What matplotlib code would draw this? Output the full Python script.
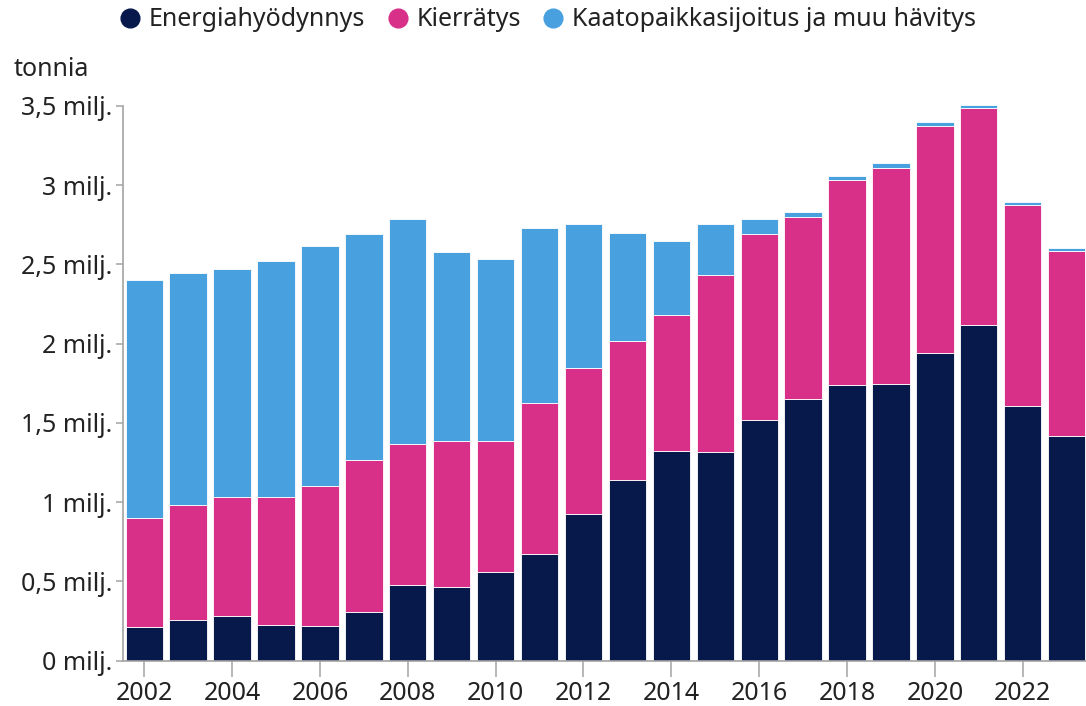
import numpy as np
import matplotlib
matplotlib.use("Agg")
import matplotlib.pyplot as plt
from matplotlib.lines import Line2D
from matplotlib.ticker import FuncFormatter


# --------------------------------------------------
# DATA (milj. tonnia)
# --------------------------------------------------
vuodet = list(range(2002, 2024))

energiahyodynnys = [0.213, 0.255, 0.283, 0.224, 0.219, 0.310, 0.477, 0.462, 0.557, 0.673, 0.928,
                    1.142, 1.320, 1.316, 1.521, 1.653, 1.739, 1.744, 1.940, 2.119, 1.609, 1.415]

kierratys = [0.690, 0.730, 0.750, 0.807, 0.880, 0.959, 0.887, 0.926, 0.828, 0.953, 0.917,
             0.876, 0.862, 1.119, 1.170, 1.145, 1.295, 1.364, 1.434, 1.369, 1.269, 1.172]

kaatopaikka = [1.499, 1.459, 1.436, 1.491, 1.518, 1.424, 1.422, 1.191, 1.151, 1.103, 0.911,
               0.681, 0.464, 0.321, 0.095, 0.032, 0.027, 0.034, 0.023, 0.021, 0.015, 0.015]

sarjat = ["Energiahyödynnys", "Kierrätys", "Kaatopaikkasijoitus ja muu hävitys"]
varit = ["#07194b", "#d82f89", "#48a0df"]

y_tikit = [0, 0.5, 1, 1.5, 2, 2.5, 3, 3.5]
x_tikit = list(range(2002, 2024, 2))


# --------------------------------------------------
# FIGURE
# --------------------------------------------------
plt.rcParams["font.family"] = ["Noto Sans", "DejaVu Sans"]
teksti = "#222222"
harmaa = "#a3a3a3"

fig = plt.figure(figsize=(10.86, 7.06), dpi=100)
ax = fig.add_axes([0.113, 0.0642, 0.887, 0.7902])

x = np.array(vuodet)
e = np.array(energiahyodynnys)
k = np.array(kierratys)
h = np.array(kaatopaikka)

leveys = 0.85
ax.bar(x, e, width=leveys, color=varit[0], edgecolor="white", linewidth=0.6)
ax.bar(x, k, width=leveys, bottom=e, color=varit[1], edgecolor="white", linewidth=0.6)
ax.bar(x, h, width=leveys, bottom=e + k, color=varit[2], edgecolor="white", linewidth=0.6)

ax.set_xlim(2001.51, 2023.44)
ax.set_ylim(0, 3.52)

# akselit
for s in ["top", "right"]:
    ax.spines[s].set_visible(False)
ax.spines["left"].set_bounds(0, 3.5)
ax.spines["left"].set_color(harmaa)
ax.spines["left"].set_linewidth(1.2)
ax.spines["bottom"].set_color(harmaa)
ax.spines["bottom"].set_linewidth(1.2)

ax.set_yticks(y_tikit)
ax.yaxis.set_major_formatter(FuncFormatter(
    lambda v, p: ("%g" % v).replace(".", ",") + " milj."))
ax.tick_params(axis="y", length=5, width=1.1, color=harmaa, pad=2.5,
               labelsize=18, labelcolor=teksti)

ax.set_xticks(x_tikit)
ax.set_xticklabels([str(v) for v in x_tikit])
ax.tick_params(axis="x", length=11.5, width=1.1, color=harmaa, pad=3,
               labelsize=18, labelcolor=teksti)

fig.text(14 / 1086, 1 - 70 / 706, "tonnia", fontsize=18, color=teksti,
         ha="left", va="center")

# selite
kahvat = [Line2D([0], [0], marker="o", linestyle="none", markersize=13.5,
                 markerfacecolor=c, markeredgecolor=c) for c in varit]
fig.legend(kahvat, sarjat, loc="center", bbox_to_anchor=(0.5046, 1 - 20 / 706),
           ncol=3, frameon=False, fontsize=18, labelcolor=teksti,
           handlelength=0.8, handletextpad=0.35, columnspacing=0.9,
           borderaxespad=0, borderpad=0)

fig.savefig("out.png", dpi=100)
